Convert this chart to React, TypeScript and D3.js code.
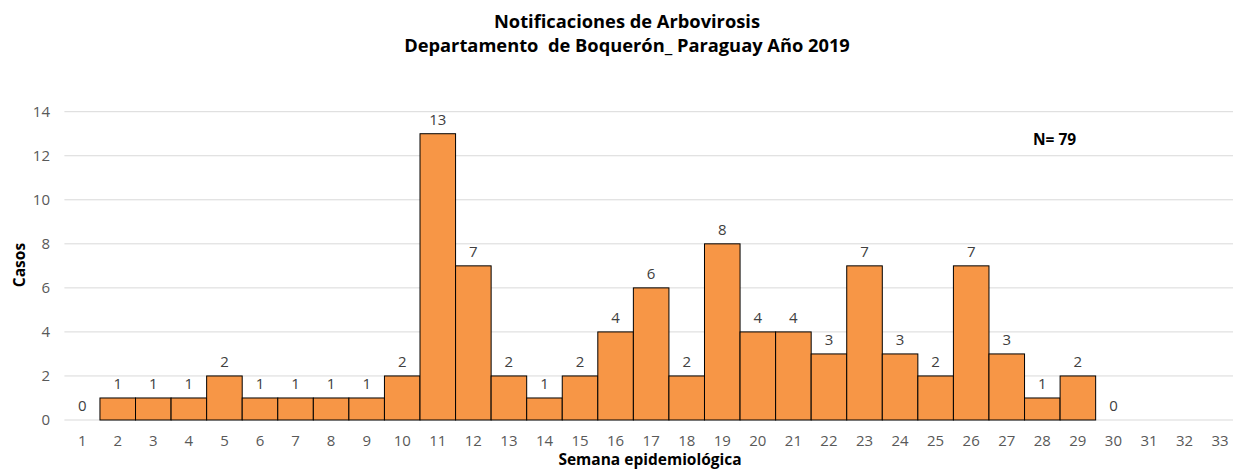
import React from "react";
import * as d3 from "d3";

const weeks = d3.range(1, 34).map(String);
const cases: (number | null)[] = [0, 1, 1, 1, 2, 1, 1, 1, 1, 2, 13, 7, 2, 1, 2, 4, 6, 2, 8, 4, 4, 3, 7, 3, 2, 7, 3, 1, 2, 0, null, null, null];
const yTicks = [0, 2, 4, 6, 8, 10, 12, 14];
const titleLines = ["Notificaciones de Arbovirosis", "Departamento  de Boquerón_ Paraguay Año 2019"];

const W = 1233, H = 470;
const M = { left: 64.4, right: 1237.9, top: 111.7, bottom: 420 };
const FONT = "'Open Sans', 'Noto Sans', sans-serif";

export default function App() {
  const x = d3.scaleBand<string>().domain(weeks).range([M.left, M.right]).padding(0);
  const y = d3.scaleLinear().domain([0, 14]).range([M.bottom, M.top]);
  return (
    <svg width={W} height={H} style={{ position: "absolute", left: 0, top: 0, background: "#fff" }} fontFamily={FONT}>
      <text x={627} y={28} textAnchor="middle" fontWeight="bold" fontSize={18.3} fill="#000">{titleLines[0]}</text>
      <text x={627} y={52} textAnchor="middle" fontWeight="bold" fontSize={18.3} fill="#000" style={{ whiteSpace: "pre" }}>{titleLines[1]}</text>
      {yTicks.map(t => (
        <g key={t}>
          <line x1={M.left} x2={W} y1={y(t)} y2={y(t)} stroke="#d9d9d9" strokeWidth={1} />
          <text x={50} y={y(t) + 5} textAnchor="end" fontSize={15} fill="#595959">{t}</text>
        </g>
      ))}
      {weeks.map((w, i) => {
        const v = cases[i];
        const bx = x(w)!;
        const cx = bx + x.bandwidth() / 2;
        return (
          <g key={w}>
            {v !== null && v > 0 && (
              <rect x={bx} y={y(v)} width={x.bandwidth()} height={y(0) - y(v)} fill="#F79646" stroke="#000" strokeWidth={1} />
            )}
            {v !== null && (
              <text x={cx} y={y(v) - 9} textAnchor="middle" fontSize={15} fill="#404040">{v}</text>
            )}
            <text x={cx} y={446} textAnchor="middle" fontSize={15} fill="#595959">{w}</text>
          </g>
        );
      })}
      <text x={650} y={465} textAnchor="middle" fontWeight="bold" fontSize={15.5} fill="#000">Semana epidemiológica</text>
      <text transform={`translate(25,265) rotate(-90)`} textAnchor="middle" fontWeight="bold" fontSize={15.5} fill="#000">Casos</text>
      <text x={1033} y={145} fontWeight="bold" fontSize={15.5} fill="#000">N= 79</text>
    </svg>
  );
}
